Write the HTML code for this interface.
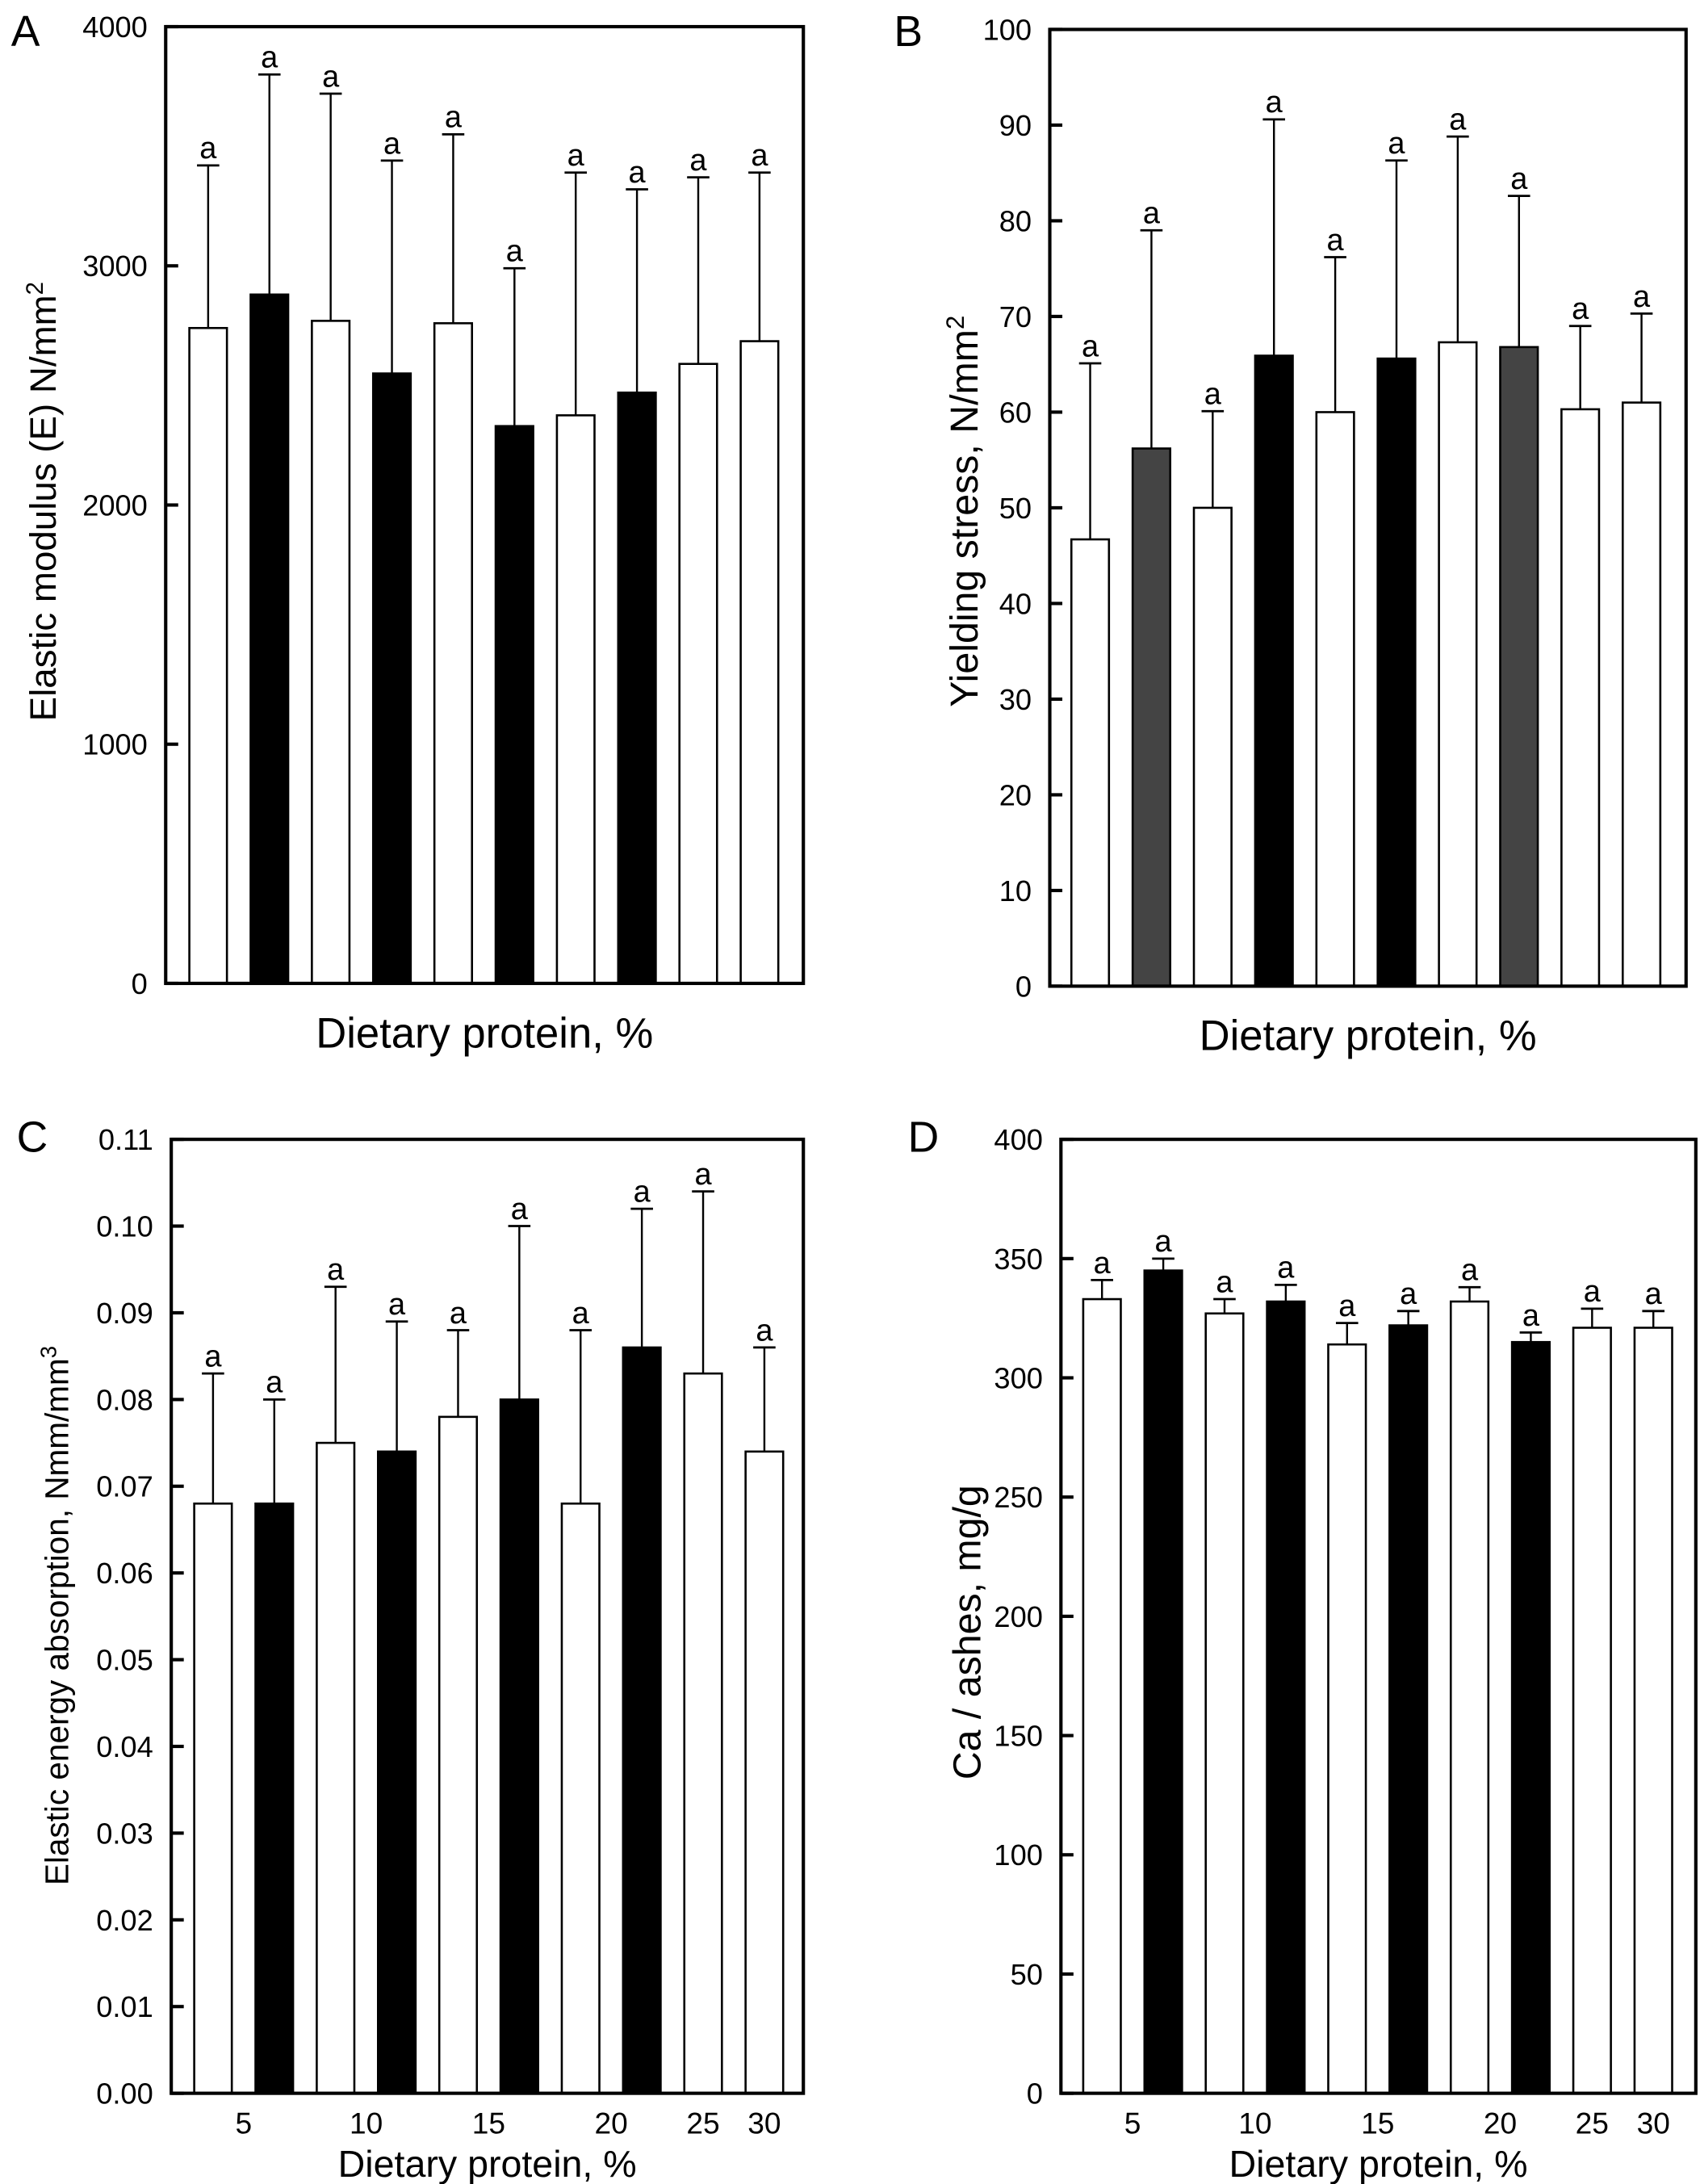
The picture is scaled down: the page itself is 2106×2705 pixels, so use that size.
<!DOCTYPE html>
<html><head><meta charset="utf-8"><style>
html,body{margin:0;padding:0;background:#fff;}
svg{display:block;}
text{font-family:"Liberation Sans",sans-serif;fill:#000;}
</style></head><body>
<svg id="fig" width="2106" height="2705" viewBox="0 0 1221 1568" xmlns="http://www.w3.org/2000/svg"></svg>
<script>
const colsA = ["#fff","#000","#fff","#000","#fff","#000","#fff","#000","#fff","#fff"];
const valsA = [2740,2880,2770,2550,2760,2330,2375,2470,2590,2685];
const errA = [3420,3800,3720,3440,3550,2990,3390,3320,3370,3390];
const ticksA = [0,1000,2000,3000,4000];
const tickLabA = ["0","1000","2000","3000","4000"];

const colsB = ["#fff","#444","#fff","#000","#fff","#000","#fff","#444","#fff","#fff"];
const valsB = [46.7,56.2,50,65.9,60,65.6,67.3,66.8,60.3,61];
const errB = [65.1,79,60.1,90.6,76.2,86.3,88.8,82.6,69,70.3];
const ticksB = [0,10,20,30,40,50,60,70,80,90,100];
const tickLabB = ["0","10","20","30","40","50","60","70","80","90","100"];

const colsC = ["#fff","#000","#fff","#000","#fff","#000","#fff","#000","#fff","#fff"];
const valsC = [0.068,0.068,0.075,0.074,0.078,0.080,0.068,0.086,0.083,0.074];
const errC = [0.083,0.080,0.093,0.089,0.088,0.100,0.088,0.102,0.104,0.086];
const ticksC = [0,0.01,0.02,0.03,0.04,0.05,0.06,0.07,0.08,0.09,0.10,0.11];
const tickLabC = ["0.00","0.01","0.02","0.03","0.04","0.05","0.06","0.07","0.08","0.09","0.10","0.11"];

const colsD = ["#fff","#000","#fff","#000","#fff","#000","#fff","#000","#fff","#fff"];
const valsD = [333,345,327,332,314,322,332,315,321,321];
const errD = [341,350,333,339,323,328,338,319,329,328];
const ticksD = [0,50,100,150,200,250,300,350,400];
const tickLabD = ["0","50","100","150","200","250","300","350","400"];

const xLabels = ["5","10","15","20","25","30"];
const xLabelPos = [0.5,2.5,4.5,6.5,8,9];

const NS="http://www.w3.org/2000/svg";
const svg=document.getElementById('fig');
function mk(tag,attrs,parent){const e=document.createElementNS(NS,tag);for(const k in attrs)e.setAttribute(k,attrs[k]);(parent||svg).appendChild(e);return e;}

function panel(p){
  const g=mk('g',{});
  
  
  const y=v=>p.bottom-(v-p.ymin)/(p.ymax-p.ymin)*(p.bottom-p.top);
  const x=i=>p.x0+i*p.step;
  p.vals.forEach((v,i)=>{
    const cx=x(i);
    const ey=mk('line',{x1:cx,x2:cx,y1:y(v),y2:y(p.err[i]),stroke:'#000','stroke-width':1.4},g);
    
    
    const cap=mk('line',{x1:cx-8,x2:cx+8,y1:y(p.err[i]),y2:y(p.err[i]),stroke:'#000','stroke-width':1.6},g);
    
    
    const r=mk('rect',{x:cx-13.5,y:y(v),width:27,height:y(p.ymin)-y(v),fill:p.cols[i],stroke:'#000','stroke-width':1.5},g);
    
    
    const t=mk('text',{x:cx,y:y(p.err[i])-5,'text-anchor':'middle','font-size':22},g);
    
    
    t.textContent='a';
  });
  const box=mk('rect',{x:p.left,y:p.top,width:p.right-p.left,height:p.bottom-p.top,fill:'none',stroke:'#000','stroke-width':2.4},g);
  
  
  p.ticks.forEach((v,i)=>{
    const tk=mk('line',{x1:p.left,x2:p.left+9,y1:y(v),y2:y(v),stroke:'#000','stroke-width':2.4},g);
    
    
    const tl=mk('text',{x:p.left-13,y:y(v)+7.5,'text-anchor':'end','font-size':21},g);
    
    
    tl.textContent=p.tickLab[i];
  });
  if(p.xl){
    xLabels.forEach((s,i)=>{
      const t=mk('text',{x:x(xLabelPos[i]),y:p.bottom+29,'text-anchor':'middle','font-size':21.5},g);
      
      
      t.textContent=s;
    });
  }
  const xt=mk('text',{x:(p.left+p.right)/2,y:p.xtY,'text-anchor':'middle','font-size':p.xl?27:30.5},g);
  
  
  xt.textContent='Dietary protein, %';
  const yt=mk('text',{x:0,y:0,'text-anchor':'middle','font-size':p.ytSize,transform:`translate(${p.ytX},${p.ytC}) rotate(-90)`},g);
  
  
  yt.innerHTML=p.ytitle;
  const lt=mk('text',{x:p.lx,y:p.ly,'font-size':31},g);
  
  
  lt.textContent=p.id;
}

panel({id:'A',left:119,right:577,top:19,bottom:706,ymin:0,ymax:4000,x0:149.5,step:44,vals:valsA,err:errA,cols:colsA,ticks:ticksA,tickLab:tickLabA,xl:false,xtY:752,ytX:40,ytC:360,ytSize:26.5,ytitle:'Elastic modulus (E) N/mm<tspan baseline-shift="super" font-size="17">2</tspan>',lx:8,ly:33});
panel({id:'B',left:754,right:1211,top:21,bottom:708,ymin:0,ymax:100,x0:783,step:44,vals:valsB,err:errB,cols:colsB,ticks:ticksB,tickLab:tickLabB,xl:false,xtY:754,ytX:702,ytC:367,ytSize:28,ytitle:'Yielding stress, N/mm<tspan baseline-shift="super" font-size="18">2</tspan>',lx:642,ly:33});
panel({id:'C',left:123,right:577,top:818,bottom:1503,ymin:0,ymax:0.11,x0:153,step:44,vals:valsC,err:errC,cols:colsC,ticks:ticksC,tickLab:tickLabC,xl:true,xtY:1563,ytX:49,ytC:1160,ytSize:23.5,ytitle:'Elastic energy absorption, Nmm/mm<tspan baseline-shift="super" font-size="16">3</tspan>',lx:12,ly:827});
panel({id:'D',left:762,right:1218,top:818,bottom:1503,ymin:0,ymax:400,x0:791.5,step:44,vals:valsD,err:errD,cols:colsD,ticks:ticksD,tickLab:tickLabD,xl:true,xtY:1563,ytX:704,ytC:1172,ytSize:28,ytitle:'Ca / ashes, mg/g',lx:652,ly:827});
</script>
</body></html>
